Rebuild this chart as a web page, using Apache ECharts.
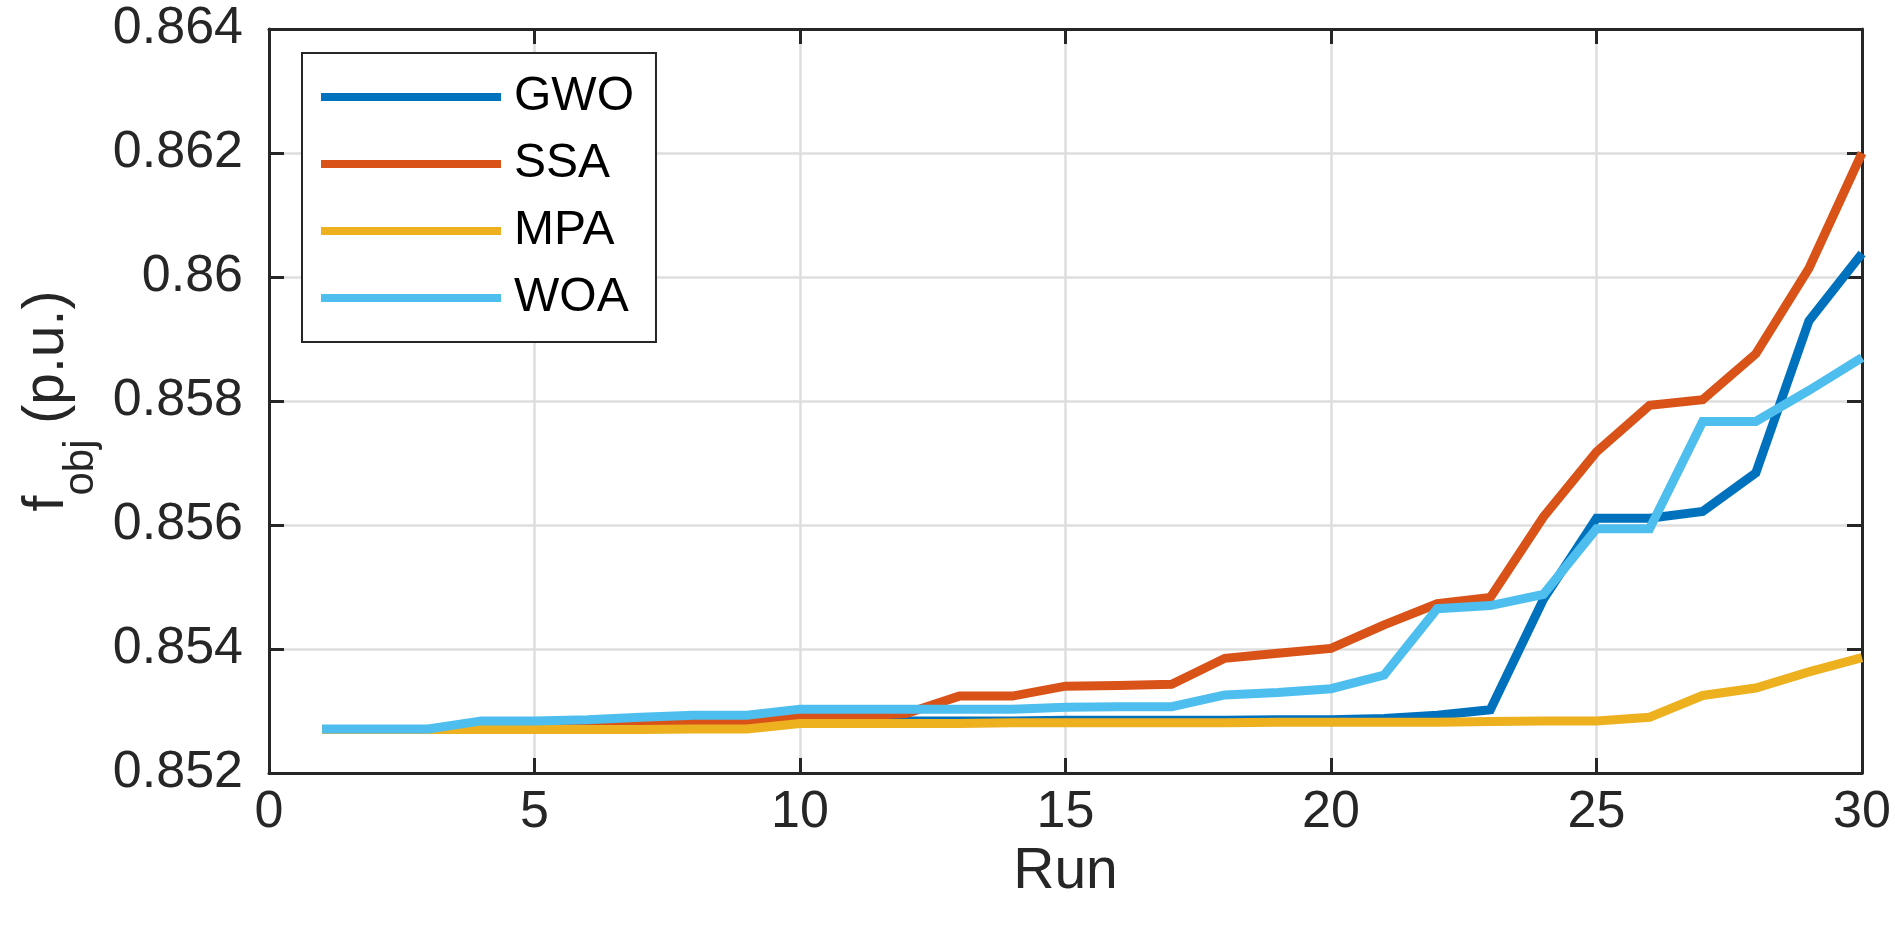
<!DOCTYPE html>
<html>
<head>
<meta charset="utf-8">
<script src="https://cdn.jsdelivr.net/npm/echarts@6/dist/echarts.min.js"></script>
<style>
html,body{margin:0;padding:0;background:#fff;}
#chart{width:1895px;height:930px;}
</style>
</head>
<body>
<div id="chart"></div>
<script>
const runs = [1,2,3,4,5,6,7,8,9,10,11,12,13,14,15,16,17,18,19,20,21,22,23,24,25,26,27,28,29,30];
const seriesNames = ['GWO','SSA','MPA','WOA'];
const gwo = [0.85270,0.85270,0.85270,0.85272,0.85273,0.85274,0.85276,0.85278,0.85280,0.85283,
             0.85284,0.85284,0.85284,0.85284,0.85285,0.85285,0.85285,0.85285,0.85286,0.85286,
             0.85288,0.85293,0.85302,0.85480,0.85611,0.85611,0.85622,0.85684,0.85929,0.86038];
const ssa = [0.85270,0.85270,0.85270,0.85273,0.85275,0.85277,0.85279,0.85281,0.85282,0.85290,
             0.85292,0.85296,0.85324,0.85324,0.85340,0.85341,0.85343,0.85385,0.85393,0.85401,
             0.85439,0.85473,0.85483,0.85613,0.85718,0.85793,0.85802,0.85876,0.86014,0.86200];
const mpa = [0.85270,0.85270,0.85270,0.85270,0.85270,0.85270,0.85270,0.85271,0.85271,0.85280,
             0.85280,0.85280,0.85280,0.85281,0.85281,0.85281,0.85281,0.85281,0.85282,0.85282,
             0.85282,0.85282,0.85283,0.85284,0.85284,0.85290,0.85325,0.85337,0.85363,0.85386];
const woa = [0.85271,0.85271,0.85271,0.85284,0.85284,0.85286,0.85290,0.85293,0.85293,0.85303,
             0.85303,0.85303,0.85303,0.85303,0.85306,0.85307,0.85307,0.85326,0.85330,0.85336,
             0.85358,0.85465,0.85470,0.85488,0.85594,0.85594,0.85767,0.85767,0.85817,0.85870];
const colors = ['#0072BD','#D95319','#EDB120','#4DBEEE'];
const xTickLabels = ['0','5','10','15','20','25','30'];
const yTickLabels = ['0.852','0.854','0.856','0.858','0.86','0.862','0.864'];
const xMin = 0, xMax = 30, xStep = 5;
const yMin = 0.852, yMax = 0.864, yStep = 0.002;

const allData = [gwo, ssa, mpa, woa];
const axisColor = '#262626';
const font = '"Liberation Sans", Arial, sans-serif';

function xFmt(v){ const i = Math.round((v - xMin)/xStep); return xTickLabels[i] !== undefined ? xTickLabels[i] : ''; }
function yFmt(v){ const i = Math.round((v - yMin)/yStep); return yTickLabels[i] !== undefined ? yTickLabels[i] : ''; }

const baseAxis = {
  axisLine: {show: true, onZero: false, lineStyle: {color: axisColor, width: 3}},
  axisTick: {show: true, inside: true, length: 15, lineStyle: {color: axisColor, width: 3}},
};

const chart = echarts.init(document.getElementById('chart'), null, {renderer: 'canvas'});
chart.setOption({
  animation: false,
  backgroundColor: '#fff',
  textStyle: {fontFamily: font},
  grid: {left: 269, right: 33, top: 29, bottom: 157, containLabel: false, outerBoundsMode: 'none'},
  legend: {
    data: seriesNames,
    orient: 'vertical',
    left: 302, top: 53,
    backgroundColor: '#fff',
    borderColor: axisColor, borderWidth: 2,
    padding: [19, 22, 19, 19],
    icon: 'rect',
    itemWidth: 180, itemHeight: 8, itemGap: 17,
    textStyle: {fontSize: 48, lineHeight: 50, color: '#000', fontFamily: font, padding: [0,0,0,8]}
  },
  xAxis: [
    Object.assign({}, baseAxis, {
      type: 'value', min: xMin, max: xMax, interval: xStep, position: 'bottom',
      name: 'Run', nameLocation: 'middle', nameGap: 68,
      nameTextStyle: {fontSize: 57, color: axisColor, fontFamily: font},
      axisLabel: {fontSize: 52, color: axisColor, margin: 14, formatter: xFmt, fontFamily: font},
      splitLine: {show: true, lineStyle: {color: '#dedede', width: 2.5}}
    }),
    Object.assign({}, baseAxis, {
      type: 'value', min: xMin, max: xMax, interval: xStep, position: 'top',
      axisLabel: {show: false}, splitLine: {show: false}
    })
  ],
  yAxis: [
    Object.assign({}, baseAxis, {
      type: 'value', min: yMin, max: yMax, interval: yStep, position: 'left',
      name: '{m|f}{s|obj}{m| (p.u.)}', nameLocation: 'middle', nameRotate: 90, nameGap: 180,
      nameTextStyle: {
        color: axisColor, fontFamily: font,
        rich: {
          m: {fontSize: 57, lineHeight: 57, color: axisColor, fontFamily: font, padding: [0, 0, 26, 0]},
          s: {fontSize: 42, lineHeight: 42, color: axisColor, fontFamily: font, padding: [41, 0, 0, 0]}
        }
      },
      axisLabel: {fontSize: 52, color: axisColor, margin: 26, formatter: yFmt, fontFamily: font},
      splitLine: {show: true, lineStyle: {color: '#dedede', width: 2.5}}
    }),
    Object.assign({}, baseAxis, {
      type: 'value', min: yMin, max: yMax, interval: yStep, position: 'right',
      axisLabel: {show: false}, splitLine: {show: false}
    })
  ],
  series: seriesNames.map((n, k) => ({
    name: n, type: 'line', xAxisIndex: 0, yAxisIndex: 0,
    data: runs.map((r, i) => [r, allData[k][i]]),
    showSymbol: false, symbol: 'none',
    color: colors[k],
    lineStyle: {width: 9, color: colors[k], join: 'miter', miterLimit: 4},
    z: 2 + k
  }))
});
</script>
</body>
</html>
